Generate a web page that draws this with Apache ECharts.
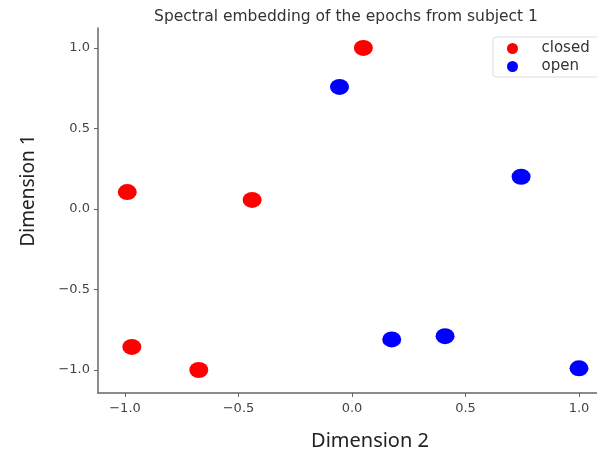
<!DOCTYPE html>
<html>
<head>
<meta charset="utf-8">
<script src="https://cdn.jsdelivr.net/npm/echarts@6/dist/echarts.min.js"></script>
<style>
  html, body { margin: 0; padding: 0; background: #fff; }
  #main { width: 597px; height: 454px; }
</style>
</head>
<body>
<div id="main"></div>
<script>
// 数据：每个点 [Dimension 2, Dimension 1]
const closedPoints = [
  [0.05, 1.0],
  [-0.99, 0.105],
  [-0.44, 0.056],
  [-0.97, -0.857],
  [-0.675, -1.0]
];
const openPoints = [
  [-0.055, 0.758],
  [0.745, 0.2],
  [0.175, -0.81],
  [0.41, -0.79],
  [1.0, -0.99]
];
const xTicks = [-1.0, -0.5, 0.0, 0.5, 1.0];
const yTicks = [-1.0, -0.5, 0.0, 0.5, 1.0];

const myChart = echarts.init(document.getElementById('main'));

const axisColor = '#666';
const labelStyle = {
  color: '#444',
  fontSize: 13,
  fontFamily: 'DejaVu Sans',
  formatter: v => v.toFixed(1).replace('-', '\u2212')
};

let option = {
  backgroundColor: '#fff',
  animation: false,
  title: {
    text: 'Spectral embedding of the epochs from subject 1',
    left: 341,
    textAlign: 'center',
    top: 4,
    textStyle: {
      color: '#333',
      fontSize: 15.5,
      fontWeight: 'normal',
      fontFamily: 'DejaVu Sans'
    }
  },
  legend: {
    data: ['closed', 'open'],
    orient: 'vertical',
    left: 493,
    top: 37,
    padding: [4, 30, 3, 14],
    itemGap: 3,
    itemWidth: 12,
    itemHeight: 11,
    borderColor: '#ddd',
    borderWidth: 1,
    borderRadius: 3,
    textStyle: {
      color: '#333',
      fontSize: 15,
      fontFamily: 'DejaVu Sans',
      padding: [0, 0, 0, 18]
    }
  },
  grid: {
    left: 98,
    top: 28,
    right: -9,
    bottom: 61,
    containLabel: false,
    outerBoundsMode: 'none'
  },
  xAxis: {
    type: 'value',
    min: -1.119,
    max: 1.119,
    name: 'Dimension 2',
    nameLocation: 'middle',
    nameGap: 38,
    nameTextStyle: {
      color: '#222',
      fontSize: 20,
      fontFamily: 'Noto Sans',
      padding: [0, 0, 0, 36]
    },
    splitLine: { show: false },
    axisLine: { show: true, onZero: false, lineStyle: { color: axisColor, width: 1.5 } },
    axisTick: { show: true, customValues: xTicks, length: 4, lineStyle: { color: axisColor } },
    axisLabel: Object.assign({ customValues: xTicks, margin: 9 }, labelStyle)
  },
  yAxis: {
    type: 'value',
    min: -1.143,
    max: 1.124,
    name: 'Dimension 1',
    nameLocation: 'middle',
    nameGap: 60,
    nameTextStyle: {
      color: '#222',
      fontSize: 19,
      fontFamily: 'Noto Sans',
      padding: [0, 0, 0, 40]
    },
    splitLine: { show: false },
    axisLine: { show: true, onZero: false, lineStyle: { color: axisColor, width: 1.5 } },
    axisTick: { show: true, customValues: yTicks, length: 4, lineStyle: { color: axisColor } },
    axisLabel: Object.assign({ customValues: yTicks, margin: 8 }, labelStyle)
  },
  series: [
    {
      name: 'closed',
      type: 'scatter',
      data: closedPoints,
      symbol: 'circle',
      symbolSize: [19, 16],
      itemStyle: { color: '#ff0000', opacity: 1 }
    },
    {
      name: 'open',
      type: 'scatter',
      data: openPoints,
      symbol: 'circle',
      symbolSize: [19, 16],
      itemStyle: { color: '#0000ff', opacity: 1 }
    }
  ]
};

myChart.setOption(option);
window.addEventListener('resize', function () {
  myChart.resize();
});
</script>
</body>
</html>
